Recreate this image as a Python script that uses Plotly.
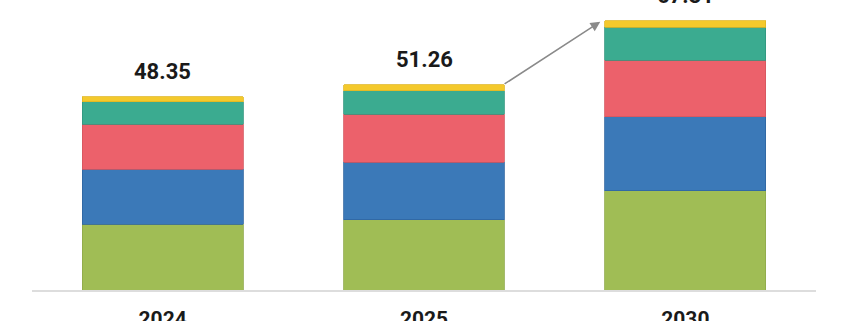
import plotly.graph_objects as go

years = ["2024", "2025", "2030"]
totals = [48.35, 51.26, 67.31]
seg_green = [16.4, 17.6, 24.8]
seg_blue = [13.8, 14.4, 18.5]
seg_red = [11.3, 11.9, 14.2]
seg_teal = [5.6, 5.95, 8.16]
seg_yellow = [1.25, 1.41, 1.65]

series = [
    (seg_green, "#A0BD55", "#8FA94A"),
    (seg_blue, "#3B79B8", "#2F65A0"),
    (seg_red, "#EC616B", "#D4565F"),
    (seg_teal, "#3BAB90", "#32967E"),
    (seg_yellow, "#F4C92C", "#E0B623"),
]

xpos = list(range(len(years)))
fig = go.Figure()
for vals, col, lcol in series:
    fig.add_trace(go.Bar(x=xpos, y=vals, marker=dict(color=col, line=dict(color=lcol, width=0.8)),
                         width=0.615, showlegend=False, hoverinfo="skip"))

for i, t in enumerate(totals):
    fig.add_annotation(x=xpos[i], y=t, text=f"<b>{t:.2f}</b>", showarrow=False,
                       yanchor="middle", yshift=25,
                       font=dict(family="Roboto", size=22, color="#1a1a1a"))

half = 0.615 / 2
fig.add_annotation(x=xpos[2] - half - 0.018, y=totals[2] - 0.25, ax=xpos[1] + half - 0.005, ay=totals[1],
                   xref="x", yref="y", axref="x", ayref="y", showarrow=True,
                   arrowhead=2, arrowsize=1.3, arrowwidth=1.5, arrowcolor="#8a8a8a", text="")

fig.update_layout(
    width=845, height=321, barmode="stack",
    margin=dict(l=32, r=29, t=0, b=31, autoexpand=False),
    plot_bgcolor="white", paper_bgcolor="white",
    xaxis=dict(range=[-0.5, 2.5], tickvals=xpos, ticktext=[f"<b>{y}</b>" for y in years],
               showgrid=False, zeroline=False, showline=True, linecolor="#dddddd", linewidth=1.5,
               ticks="", ticklabelstandoff=9, automargin=False,
               tickfont=dict(family="Roboto", size=21, color="#1a1a1a")),
    yaxis=dict(range=[0, 72.5], visible=False, showgrid=False, automargin=False),
)
fig.write_html("out.html")
